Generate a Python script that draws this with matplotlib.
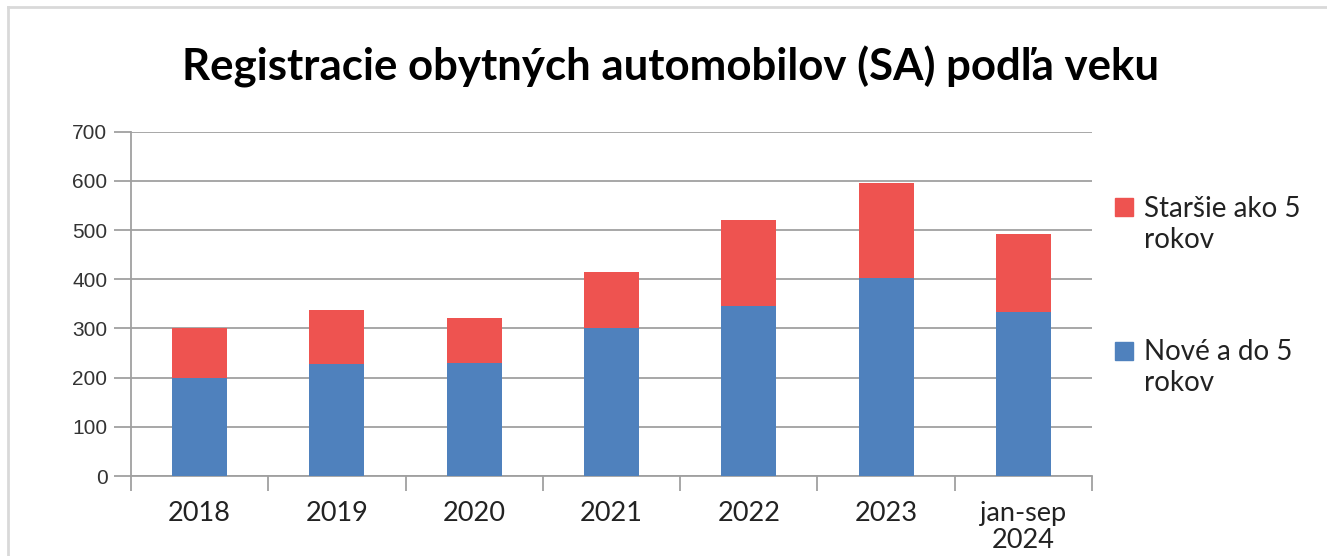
import matplotlib.pyplot as plt
from matplotlib.patches import Rectangle
from matplotlib.lines import Line2D
import numpy as np

# data
categories = ["2018", "2019", "2020", "2021", "2022", "2023", "jan-sep\n2024"]
nove = [200, 227, 230, 300, 345, 403, 333]
starsie = [100, 111, 91, 115, 176, 193, 159]
labels = ["Nové a do 5\nrokov", "Staršie ako 5\nrokov"]
colors = ["#4F81BD", "#EE5350"]

W, H = 1327, 556
fig = plt.figure(figsize=(W / 100, H / 100), dpi=100)
ax = fig.add_axes([131 / W, 1 - 476 / H, (1092 - 131) / W, (476 - 131.7) / H])

x = np.arange(len(categories))
ax.bar(x, nove, width=0.4, color=colors[0], zorder=3)
ax.bar(x, starsie, width=0.4, bottom=nove, color=colors[1], zorder=3)

grid_c = "#a0a0a0"
ax.set_ylim(0, 700)
ax.set_xlim(-0.5, len(categories) - 0.5)
ax.set_yticks(range(0, 701, 100))
ax.yaxis.grid(True, color=grid_c, linewidth=1.3, zorder=0)
ax.set_xticks(x)
ax.set_xticklabels(categories, fontfamily="Lato", fontsize=19.5,
                   linespacing=1.1, color="#222222")
ax.set_xticks(np.arange(-0.5, len(categories)), minor=True)
ax.tick_params(axis="x", which="major", length=0, pad=18)
ax.tick_params(axis="x", which="minor", length=11, width=1.3, color=grid_c)
ax.tick_params(axis="y", length=12, width=1.3, color=grid_c, pad=5,
               labelsize=15, labelcolor="#333333")
for t in ax.get_yticklabels():
    t.set_fontfamily("Liberation Sans")
for s in ["top", "right"]:
    ax.spines[s].set_visible(False)
for s in ["left", "bottom"]:
    ax.spines[s].set_color(grid_c)
    ax.spines[s].set_linewidth(1.3)

fig.text(0.505, 1 - 80 / H, "Registracie obytných automobilov (SA) podľa veku",
         ha="center", va="baseline", fontfamily="Lato", fontweight="bold",
         fontsize=31.5, color="#000000")

# legend, drawn by hand to follow the reference layout
leg = [(colors[1], labels[1], 198, 217), (colors[0], labels[0], 342, 360)]
for c, lab, ytop, base in leg:
    fig.add_artist(Rectangle((1115 / W, 1 - (ytop + 18) / H), 18 / W, 18 / H,
                             transform=fig.transFigure, color=c))
    first, second = lab.split("\n")
    fig.text(1144 / W, 1 - base / H, first, va="baseline", fontfamily="Lato",
             fontsize=20, color="#222222")
    fig.text(1144 / W, 1 - (base + 31) / H, second, va="baseline",
             fontfamily="Lato", fontsize=20, color="#222222")

# light frame lines (top and left) around the chart area
fc = "#d9d9d9"
fig.add_artist(Line2D([8 / W, 1], [1 - 7 / H, 1 - 7 / H], transform=fig.transFigure,
                      color=fc, linewidth=2))
fig.add_artist(Line2D([8 / W, 8 / W], [0, 1 - 7 / H], transform=fig.transFigure,
                      color=fc, linewidth=2))

fig.savefig("out.png", dpi=100)
